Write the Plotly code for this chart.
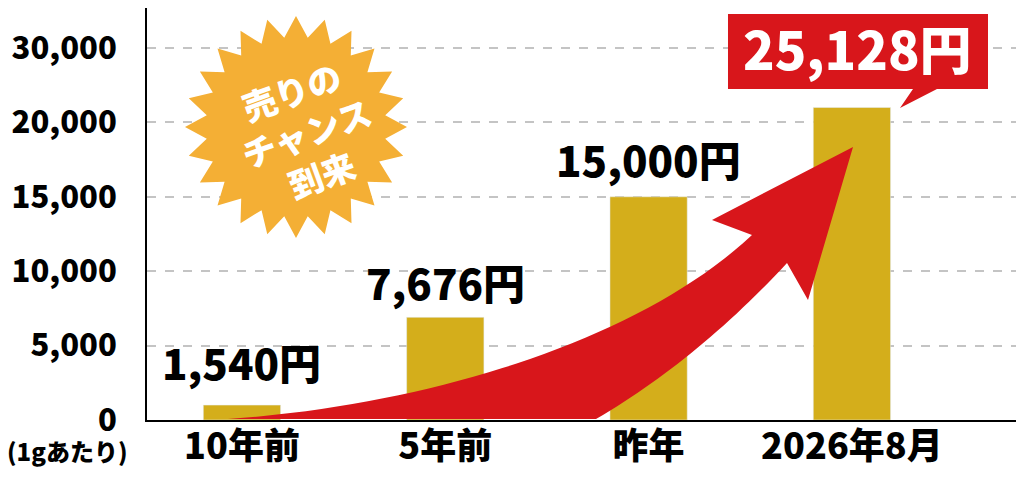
import numpy as np
import plotly.graph_objects as go

## data
periods = ["10年前", "5年前", "昨年", "2026年8月"]
bar_heights = [1000, 6900, 15000, 21000]          # drawn bar heights
price_labels = ["1,540円", "7,676円", "15,000円", "25,128円"]
y_tickvals = [0, 5000, 10000, 15000, 20000, 25000]
y_ticktext = ["0", "5,000", "10,000", "15,000", "20,000", "30,000"]
unit_note = "(1gあたり)"
badge_lines = ["売りの", "チャンス", "到来"]

FONT = "Noto Sans CJK JP"
GOLD = "#D4AE1B"
RED = "#D8161B"
ORANGE = "#F4AF35"

## page has an 8px body margin, so the figure is drawn 8px in from the corner
OFF = 8
W, H = 1024 - 2*OFF, 485 - 2*OFF
L, R, T, B = 139, W, 0, 412          # plot area in figure pixels

def px(x, y):
    ## screen pixel -> paper coords (decorations only)
    return (x - OFF - L) / (R - L), (B - (y - OFF)) / (B - T)

def path_from(pts, close=True):
    s = ""
    for i, (x, y) in enumerate(pts):
        a, b = px(x, y)
        s += ("M" if i == 0 else "L") + f"{a:.5f},{b:.5f} "
    return s + ("Z" if close else "")

fig = go.Figure()
fig.add_trace(go.Bar(x=periods, y=bar_heights, marker_color=GOLD,
                     width=0.38, hoverinfo="skip", showlegend=False))

## curved red arrow (upper edge cubic, lower edge quadratic)
def bez(p0, p1, p2, p3, n=40):
    t = np.linspace(0, 1, n)[:, None]
    p0, p1, p2, p3 = map(np.array, (p0, p1, p2, p3))
    return ((1-t)**3*p0 + 3*(1-t)**2*t*p1 + 3*(1-t)*t**2*p2 + t**3*p3).tolist()

def qbez(p0, p1, p2, n=30):
    t = np.linspace(0, 1, n)[:, None]
    p0, p1, p2 = map(np.array, (p0, p1, p2))
    return ((1-t)**2*p0 + 2*(1-t)*t*p1 + t**2*p2).tolist()

arrow = bez((228, 419), (430, 405), (640, 340), (752, 235))
arrow += [(712, 220), (853, 147), (808, 300), (787, 263)]
arrow += qbez((787, 263), (697, 360), (596, 419))
arrow += [(228, 419)]
fig.add_shape(type="path", path=path_from(arrow), xref="paper", yref="paper",
              fillcolor=RED, line_width=0, layer="above")

## starburst badge
cx, cy, ro, ri, n = 296, 127, 111, 90, 24
ang = np.linspace(0, 2*np.pi, 2*n, endpoint=False) - np.pi/2
rad = np.where(np.arange(2*n) % 2 == 0, ro, ri)
star = list(zip(cx + rad*np.cos(ang), cy + rad*np.sin(ang)))
fig.add_shape(type="path", path=path_from(star), xref="paper", yref="paper",
              fillcolor=ORANGE, line_width=0, layer="above")

def note(x, y, text, size, color, **kw):
    a, b = px(x, y)
    fig.add_annotation(x=a, y=b, xref="paper", yref="paper", text=text,
                       showarrow=False, xanchor="center", yanchor="middle",
                       font=dict(family=FONT, size=size, color=color, weight=900), **kw)

note(306, 133, "<br>".join(badge_lines), 34, "white", textangle=-20, align="center")

## red callout box for the last price
callout = [(728, 14), (988, 14), (988, 89), (937, 89), (900, 108), (913, 89), (728, 89)]
fig.add_shape(type="path", path=path_from(callout), xref="paper", yref="paper",
              fillcolor=RED, line_width=0, layer="above")

## price labels
shifts = [11, 3, 6]
for p, h, t, s in zip(periods[:3], bar_heights[:3], price_labels[:3], shifts):
    fig.add_annotation(x=p, y=h, text=t, showarrow=False, yanchor="bottom", yshift=s,
                       font=dict(family=FONT, size=42, color="black", weight=900))
note(857, 48, price_labels[3], 52, "white")
note(67, 450, unit_note, 24, "black")

fig.update_layout(width=W, height=H, margin=dict(l=L, r=W-R, t=T, b=H-B),
                  plot_bgcolor="white", paper_bgcolor="white", bargap=0.6,
                  font=dict(family=FONT, color="black"))
fig.update_xaxes(range=[-0.467, 3.807], showline=True, linecolor="black", linewidth=2,
                 showgrid=False, ticks="", ticklabelstandoff=-6, automargin=False,
                 tickfont=dict(family=FONT, size=36, color="black", weight=900))
fig.update_yaxes(range=[0, B/74.4*5000], tickvals=y_tickvals, ticktext=y_ticktext,
                 showline=True, linecolor="black", linewidth=2, zeroline=False,
                 showgrid=True, gridcolor="#C4C4C4", gridwidth=1.5, griddash="dash",
                 ticks="", ticklabelstandoff=22, automargin=False,
                 tickfont=dict(family=FONT, size=31, color="black", weight=900))

fig.write_html("out.html")
